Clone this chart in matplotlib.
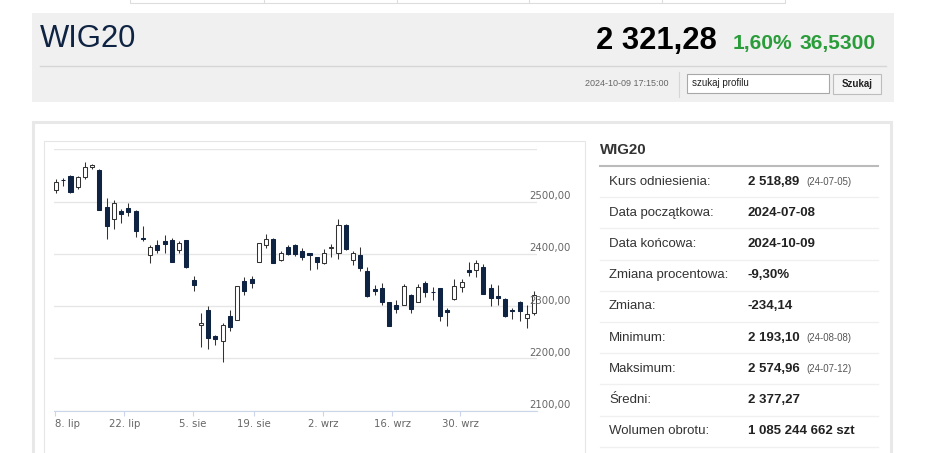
"""WIG20 quote page: header strip, candlestick chart and the summary table."""
import matplotlib
matplotlib.use("Agg")
import matplotlib.patches as mpatches
import matplotlib.pyplot as plt
import pandas as pd

# --- Data --------------------------------------------------------------------
# Trading sessions 2024-07-08 .. 2024-10-09 (Aug 15 is a GPW holiday).
dates = [d for d in pd.bdate_range("2024-07-08", "2024-10-09") if d != pd.Timestamp("2024-08-15")]

opens = [2522.3, 2542.0, 2549.0, 2527.4, 2546.5, 2567.0, 2560.5, 2489.2, 2466.9, 2482.8,
         2487.9, 2482.8, 2431.2, 2398.1, 2416.6, 2425.5, 2426.1, 2407.6, 2426.8, 2350.3,
         2263.7, 2291.7, 2242.0, 2233.1, 2281.5, 2273.9, 2348.4, 2352.2, 2384.7, 2416.6,
         2429.3, 2388.5, 2414.0, 2417.2, 2405.1, 2401.3, 2393.6, 2382.2, 2410.8, 2402.5,
         2454.8, 2387.3, 2397.5, 2366.9, 2333.1, 2333.8, 2307.0, 2301.3, 2302.5, 2321.0,
         2308.3, 2344.0, 2328.0, 2333.8, 2293.0, 2313.4, 2336.3, 2369.4, 2369.4, 2374.5,
         2334.4, 2318.5, 2314.6, 2293.0, 2307.0, 2277.0, 2286.6]
highs = [2542.7, 2544.6, 2550.3, 2549.0, 2574.96, 2571.0, 2561.8, 2506.4, 2503.2, 2486.0,
         2496.8, 2484.0, 2454.1, 2416.6, 2426.8, 2435.7, 2431.2, 2424.8, 2427.4, 2356.7,
         2286.6, 2299.4, 2245.2, 2267.5, 2293.0, 2338.9, 2355.4, 2357.9, 2421.7, 2437.6,
         2430.6, 2405.1, 2417.8, 2418.5, 2410.8, 2402.5, 2394.9, 2408.9, 2419.1, 2466.2,
         2457.3, 2405.1, 2414.0, 2375.8, 2339.5, 2345.2, 2307.6, 2312.1, 2342.0, 2322.9,
         2342.7, 2347.8, 2335.7, 2334.4, 2296.2, 2351.6, 2351.6, 2384.7, 2387.3, 2380.9,
         2341.4, 2340.1, 2315.3, 2296.2, 2308.9, 2302.5, 2329.9]
lows = [2517.2, 2530.6, 2517.0, 2523.6, 2542.7, 2561.8, 2484.0, 2428.0, 2447.1, 2458.6,
        2472.6, 2433.0, 2425.5, 2383.4, 2401.3, 2401.3, 2384.7, 2401.3, 2373.9, 2329.9,
        2221.7, 2217.8, 2226.1, 2193.1, 2251.6, 2273.2, 2321.7, 2333.8, 2384.1, 2410.8,
        2382.2, 2386.0, 2397.5, 2396.2, 2387.3, 2368.2, 2370.7, 2380.9, 2394.9, 2391.0,
        2407.6, 2379.6, 2366.9, 2317.2, 2321.7, 2301.9, 2261.8, 2286.6, 2301.3, 2286.6,
        2307.0, 2317.2, 2312.1, 2270.7, 2261.1, 2310.8, 2327.4, 2356.7, 2355.4, 2322.3,
        2299.4, 2302.5, 2279.0, 2275.8, 2270.7, 2258.0, 2283.5]
closes = [2538.2, 2540.5, 2518.5, 2546.5, 2565.6, 2569.4, 2484.0, 2453.5, 2496.8, 2476.4,
          2480.9, 2444.6, 2429.3, 2414.0, 2407.6, 2419.1, 2384.7, 2420.4, 2374.5, 2339.5,
          2266.9, 2238.2, 2236.9, 2264.3, 2259.2, 2337.6, 2329.9, 2345.2, 2420.4, 2428.0,
          2383.4, 2401.3, 2400.0, 2400.0, 2394.9, 2397.5, 2384.1, 2402.5, 2412.7, 2456.0,
          2408.9, 2401.3, 2372.0, 2318.5, 2329.9, 2307.0, 2262.4, 2294.3, 2337.6, 2294.3,
          2335.7, 2326.1, 2326.1, 2280.3, 2287.9, 2338.9, 2346.5, 2366.2, 2383.4, 2323.6,
          2315.3, 2315.3, 2280.3, 2291.1, 2291.1, 2285.4, 2321.28]

x_tick_labels = ["8. lip", "22. lip", "5. sie", "19. sie", "2. wrz", "16. wrz", "30. wrz"]
x_tick_pos = [-0.14, 9.43, 18.92, 27.34, 36.87, 46.4, 55.79]   # in session index units
y_ticks = [2100, 2200, 2300, 2400, 2500, 2600]
y_tick_labels = ["2100,00", "2200,00", "2300,00", "2400,00", "2500,00", ""]

table_labels = ["Kurs odniesienia:", "Data początkowa:", "Data końcowa:", "Zmiana procentowa:",
                "Zmiana:", "Minimum:", "Maksimum:", "Średni:", "Wolumen obrotu:"]
table_values = ["2 518,89", "2024-07-08", "2024-10-09", "-9,30%", "-234,14",
                "2 193,10", "2 574,96", "2 377,27", "1 085 244 662 szt"]
table_notes = ["(24-07-05)", "", "", "", "", "(24-08-08)", "(24-07-12)", "", ""]

# --- Style -------------------------------------------------------------------
W, H = 948, 453
NAVY = "#0f2342"
GREEN = "#2a9d3a"
GREY_TXT = "#666666"
SANS = ["Liberation Sans", "DejaVu Sans"]


def px(v):
    """pixel size -> points at dpi 100"""
    return v * 0.72


fig = plt.figure(figsize=(W / 100, H / 100), dpi=100)
fig.patch.set_facecolor("white")

# page layer in pixel coordinates (y down)
page = fig.add_axes([0, 0, 1, 1])
page.set_xlim(0, W)
page.set_ylim(H, 0)
page.axis("off")

# top menu strip remnant
page.add_patch(mpatches.Rectangle((130, -3), 655, 6, facecolor="white", edgecolor="#dddddd", lw=0.8))
for xd in (264, 397, 529, 662):
    page.plot([xd, xd], [0, 3], color="#dddddd", lw=0.8)

# header box
page.add_patch(mpatches.Rectangle((32, 13), 862, 89, facecolor="#f0f0f0", edgecolor="none"))
page.plot([40, 886], [65.5, 65.5], color="#d6d6d6", lw=1.0)
page.text(40, 39, "WIG20", fontsize=px(31), color=NAVY, family=SANS, ha="left", va="center")
page.text(717, 41, "2 321,28", fontsize=px(31), color="black", weight="bold", family=SANS,
          ha="right", va="center")
page.text(733, 43, "1,60%", fontsize=px(21), color=GREEN, weight="bold", family=SANS,
          ha="left", va="center")
page.text(800, 43, "36,5300", fontsize=px(21), color=GREEN, weight="bold", family=SANS,
          ha="left", va="center")
page.text(669, 84, "2024-10-09 17:15:00", fontsize=6.5, color=GREY_TXT, family=SANS,
          ha="right", va="center")
page.plot([679, 679], [72, 97], color="#d6d6d6", lw=0.8)
page.add_patch(mpatches.Rectangle((687, 74), 142, 19, facecolor="white", edgecolor="#a8a8a8", lw=0.8))
page.text(692, 83.5, "szukaj profilu", fontsize=7, color="#222222", family=SANS, ha="left", va="center")
page.add_patch(mpatches.Rectangle((833, 74), 48, 20, facecolor="#f4f4f4", edgecolor="#bdbdbd", lw=0.8))
page.text(857, 84, "Szukaj", fontsize=7, color="#222222", weight="bold", family=SANS,
          ha="center", va="center")

# main panel and chart frame
page.add_patch(mpatches.Rectangle((33, 122), 858, 340, facecolor="white", edgecolor="#e8e8e8", lw=2.2))
page.add_patch(mpatches.Rectangle((44.5, 140.5), 541, 330, facecolor="white", edgecolor="#e6e6e6", lw=0.8))

# summary table
page.text(600, 150.5, "WIG20", fontsize=px(15), color="#333333", weight="bold", family=SANS,
          ha="left", va="center")
page.plot([600, 878], [166, 166], color="#bbbbbb", lw=1.5)
row_top = 166
row_h = 31.2
for i, (lab, val, note) in enumerate(zip(table_labels, table_values, table_notes)):
    cy = row_top + row_h * (i + 0.5)
    page.text(609, cy, lab, fontsize=px(13.2), color="#333333", family=SANS, ha="left", va="center")
    page.text(748, cy, val, fontsize=px(13.2), color="#222222", weight="bold", family=SANS,
              ha="left", va="center")
    if note:
        page.text(806.5, cy + 0.5, note, fontsize=px(9.6), color="#555555", family=SANS,
                  ha="left", va="center")
    page.plot([600, 878], [row_top + row_h * (i + 1)] * 2, color="#f0f0f0", lw=1.0)

# --- Candlestick chart -------------------------------------------------------
pl, pr, pt, pb = 54, 537, 149.3, 410.7
ax = fig.add_axes([pl / W, 1 - pb / H, (pr - pl) / W, (pb - pt) / H])
ax.set_facecolor("none")
n = len(closes)
xs = list(range(n))
ax.set_xlim(-0.276, n - 1 + 0.41)
ax.set_ylim(2100, 2600)

up_edge = "#333333"
body_w = 0.56
ax.vlines(xs, lows, highs, color="#333333", lw=0.75, zorder=2)
for i in xs:
    o, c = opens[i], closes[i]
    lo = min(o, c)
    h = max(abs(c - o), 1.2)
    if c >= o:
        ax.bar(i, h, bottom=lo, width=body_w, facecolor="white", edgecolor=up_edge, lw=0.75, zorder=3)
    else:
        ax.bar(i, h, bottom=lo, width=body_w, facecolor=NAVY, edgecolor=NAVY, lw=0.75, zorder=3)

ax.set_yticks(y_ticks)
ax.yaxis.grid(True, color="#e6e6e6", lw=1.0)
ax.set_axisbelow(True)
ax.tick_params(axis="y", left=False, labelleft=False)
for v, lab in zip(y_ticks, y_tick_labels):
    if lab:
        ax.annotate(lab, xy=((571 - pl) / (pr - pl), v), xycoords=("axes fraction", "data"),
                    xytext=(0, px(5.5)), textcoords="offset points", ha="right", va="center",
                    fontsize=7.3, color=GREY_TXT, family="DejaVu Sans", annotation_clip=False)

ax.set_xticks(x_tick_pos)
ax.set_xticklabels(x_tick_labels)
ax.tick_params(axis="x", direction="out", length=px(5), width=0.8, color="#ccd6eb",
               labelsize=7.3, labelcolor=GREY_TXT, pad=2.5)
ax.get_xticklabels()[0].set_ha("left")
for s in ("top", "right", "left"):
    ax.spines[s].set_visible(False)
ax.spines["bottom"].set_color("#ccd6eb")
ax.spines["bottom"].set_linewidth(0.8)

fig.savefig("out.png", dpi=100)
